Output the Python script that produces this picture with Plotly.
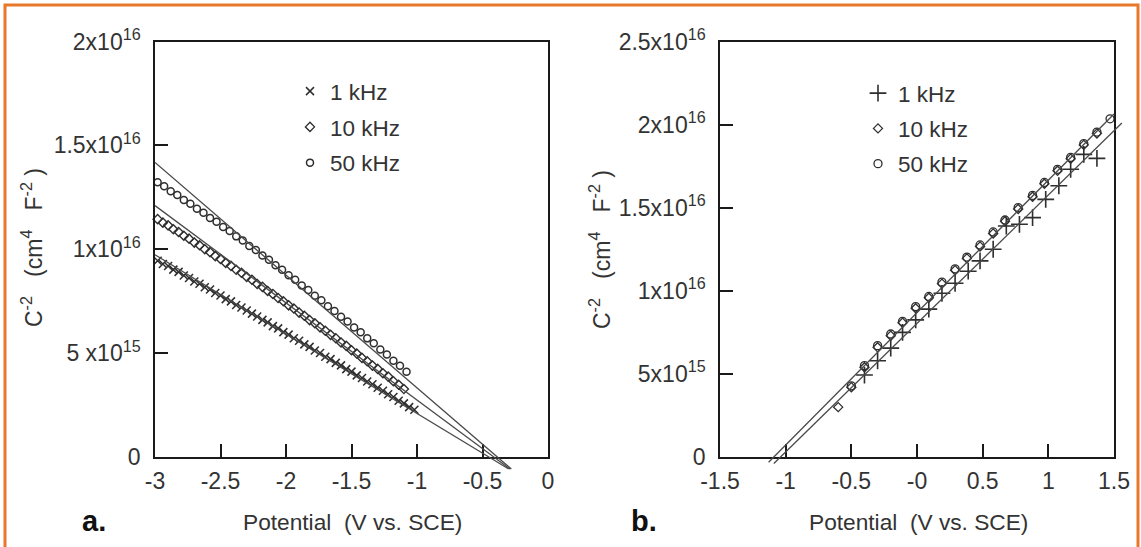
import plotly.graph_objects as go

# ---------------- data (C^-2 in units of 1e16 cm^4 F^-2, potential in V vs. SCE) -------------
# panel a
X_A_1K = [-2.98, -2.94, -2.90, -2.86, -2.82, -2.78, -2.74, -2.70, -2.66, -2.62,
          -2.58, -2.54, -2.50, -2.46, -2.42, -2.38, -2.34, -2.30, -2.26, -2.22,
          -2.18, -2.14, -2.10, -2.06, -2.02, -1.98, -1.94, -1.90, -1.86, -1.82,
          -1.78, -1.74, -1.70, -1.66, -1.62, -1.58, -1.54, -1.50, -1.46, -1.42,
          -1.38, -1.34, -1.30, -1.26, -1.22, -1.18, -1.14, -1.10, -1.06, -1.02]
Y_A_1K = [0.945, 0.929, 0.919, 0.902, 0.891, 0.874, 0.862, 0.845, 0.834, 0.817,
          0.806, 0.789, 0.777, 0.760, 0.749, 0.732, 0.720, 0.705, 0.690, 0.676,
          0.660, 0.648, 0.630, 0.619, 0.601, 0.589, 0.572, 0.560, 0.542, 0.530,
          0.513, 0.501, 0.483, 0.471, 0.453, 0.441, 0.423, 0.411, 0.393, 0.380,
          0.363, 0.350, 0.333, 0.319, 0.302, 0.289, 0.271, 0.258, 0.240, 0.227]

X_A_10K = [-2.98, -2.94, -2.90, -2.86, -2.82, -2.78, -2.74, -2.70, -2.66, -2.62,
           -2.58, -2.54, -2.50, -2.46, -2.42, -2.38, -2.34, -2.30, -2.26, -2.22,
           -2.18, -2.14, -2.10, -2.06, -2.02, -1.98, -1.94, -1.90, -1.86, -1.82,
           -1.78, -1.74, -1.70, -1.66, -1.62, -1.58, -1.54, -1.50, -1.46, -1.42,
           -1.38, -1.34, -1.30, -1.26, -1.22, -1.18, -1.14, -1.10]
Y_A_10K = [1.145, 1.128, 1.115, 1.096, 1.083, 1.065, 1.051, 1.032, 1.019, 1.000,
           0.986, 0.967, 0.953, 0.934, 0.920, 0.901, 0.887, 0.867, 0.853, 0.833,
           0.819, 0.799, 0.785, 0.765, 0.750, 0.730, 0.715, 0.695, 0.680, 0.659,
           0.644, 0.624, 0.608, 0.588, 0.572, 0.551, 0.535, 0.514, 0.498, 0.477,
           0.461, 0.440, 0.424, 0.403, 0.387, 0.365, 0.348, 0.327]

X_A_50K = [-2.98, -2.93, -2.88, -2.83, -2.78, -2.73, -2.68, -2.63, -2.58, -2.53,
           -2.48, -2.43, -2.38, -2.33, -2.28, -2.23, -2.18, -2.13, -2.08, -2.03,
           -1.98, -1.93, -1.88, -1.83, -1.78, -1.73, -1.68, -1.63, -1.58, -1.53,
           -1.48, -1.43, -1.38, -1.33, -1.28, -1.23, -1.18, -1.13, -1.08]
Y_A_50K = [1.322, 1.303, 1.279, 1.261, 1.237, 1.219, 1.195, 1.176, 1.151, 1.132,
           1.107, 1.088, 1.062, 1.042, 1.016, 0.996, 0.970, 0.949, 0.923, 0.901,
           0.875, 0.853, 0.826, 0.804, 0.776, 0.754, 0.726, 0.703, 0.675, 0.652,
           0.623, 0.600, 0.571, 0.547, 0.517, 0.493, 0.463, 0.439, 0.410]

# Mott-Schottky fits, panel a (end points of each straight line)
FIT_A_1K_X = [-3.0, -0.30]
FIT_A_1K_Y = [0.973, -0.058]
FIT_A_10K_X = [-3.0, -0.29]
FIT_A_10K_Y = [1.210, -0.058]
FIT_A_50K_X = [-3.0, -0.28]
FIT_A_50K_Y = [1.418, -0.058]

# panel b
X_B_1K = [-0.40, -0.30, -0.20, -0.11, -0.01, 0.09, 0.19, 0.29, 0.39, 0.48,
          0.58, 0.68, 0.78, 0.88, 0.98, 1.08, 1.17, 1.27, 1.37]
Y_B_1K = [0.493, 0.579, 0.655, 0.750, 0.825, 0.890, 0.985, 1.045, 1.118, 1.180,
          1.250, 1.390, 1.400, 1.440, 1.550, 1.632, 1.731, 1.821, 1.797]

X_B_10K = [-0.60, -0.50, -0.40, -0.30, -0.20, -0.11, -0.01, 0.09, 0.19, 0.29,
           0.38, 0.48, 0.58, 0.67, 0.77, 0.88, 0.97, 1.07, 1.17, 1.27, 1.37]
Y_B_10K = [0.300, 0.420, 0.540, 0.660, 0.730, 0.808, 0.895, 0.958, 1.043, 1.124,
           1.195, 1.267, 1.345, 1.418, 1.492, 1.566, 1.644, 1.722, 1.795, 1.878, 1.947]

X_B_50K = [-0.50, -0.40, -0.30, -0.20, -0.11, -0.01, 0.09, 0.19, 0.29, 0.38,
           0.48, 0.58, 0.67, 0.77, 0.88, 0.97, 1.07, 1.17, 1.27, 1.37, 1.47]
Y_B_50K = [0.428, 0.550, 0.670, 0.740, 0.816, 0.905, 0.966, 1.052, 1.132, 1.203,
           1.276, 1.354, 1.426, 1.501, 1.574, 1.652, 1.731, 1.803, 1.886, 1.955, 2.035]

FIT_B_HF_X = [-1.13, 1.50]
FIT_B_HF_Y = [-0.032, 2.064]
FIT_B_1K_X = [-1.09, 1.56]
FIT_B_1K_Y = [-0.039, 2.010]

# axis ticks
XT_A = [-3, -2.5, -2, -1.5, -1, -0.5, 0]
XL_A = ["-3", "-2.5", "-2", "-1.5", "-1", "-0.5", "0"]
YT_A = [0, 0.5, 1.0, 1.5, 2.0]
YL_A = ["0", "5 x10<sup>15</sup>", "1x10<sup>16</sup>", "1.5x10<sup>16</sup>", "2x10<sup>16</sup>"]
XT_B = [-1.5, -1, -0.5, 0, 0.5, 1, 1.5]
XL_B = ["-1.5", "-1", "-0.5", "-0", "0.5", "1", "1.5"]
YT_B = [0, 0.5, 1.0, 1.5, 2.0, 2.5]
YL_B = ["0", "5x10<sup>15</sup>", "1x10<sup>16</sup>", "1.5x10<sup>16</sup>",
        "2x10<sup>16</sup>", "2.5x10<sup>16</sup>"]

# ---------------- layout geometry (pixels) ----------------
W, H = 1141, 547
FONT = "Liberation Sans, Arial, sans-serif"
TXT = "#333333"
INK = "#2e2e2e"
LINE = "#4a4a4a"


def px(x):
    return x / W


def py(y):
    return 1 - y / H


A_X = [px(155), px(548)]
B_X = [px(720), px(1114)]
Y_DOM = [py(457), py(41.5)]
EXT_Y = 14 / H      # room for the fit lines below the zero line
EXT_X = 10 / W      # room for the fit lines right of panel b

fig = go.Figure()


def markers(x, y, sym, size, xa, ya, name, leg, lw=1.2):
    fig.add_trace(go.Scatter(
        x=x, y=y, mode="markers", name=name, xaxis=xa, yaxis=ya, legend=leg,
        legendgroup=leg + name, cliponaxis=False,
        marker=dict(symbol=sym, size=size, color=INK,
                    line=dict(color=INK, width=lw)),
    ))


def fitline(x, y, xa, ya):
    fig.add_trace(go.Scatter(
        x=x, y=y, mode="lines", xaxis=xa, yaxis=ya, showlegend=False,
        line=dict(color=LINE, width=1.3), hoverinfo="skip",
    ))


# panel a
fitline(FIT_A_1K_X, FIT_A_1K_Y, "x3", "y3")
fitline(FIT_A_10K_X, FIT_A_10K_Y, "x3", "y3")
fitline(FIT_A_50K_X, FIT_A_50K_Y, "x3", "y3")
markers(X_A_1K, Y_A_1K, "x-thin", 8, "x", "y", "1 kHz", "legend", 1.5)
markers(X_A_10K, Y_A_10K, "diamond-open", 7, "x", "y", "10 kHz", "legend", 1.4)
markers(X_A_50K, Y_A_50K, "circle-open", 7, "x", "y", "50 kHz", "legend", 1.5)

# panel b
fitline(FIT_B_HF_X, FIT_B_HF_Y, "x4", "y4")
fitline(FIT_B_1K_X, FIT_B_1K_Y, "x4", "y4")
markers(X_B_1K, Y_B_1K, "cross-thin", 12, "x2", "y2", "1 kHz", "legend2", 1.6)
markers(X_B_10K, Y_B_10K, "diamond-open", 7, "x2", "y2", "10 kHz", "legend2", 1.3)
markers(X_B_50K, Y_B_50K, "circle-open", 8, "x2", "y2", "50 kHz", "legend2", 1.3)

axis_common = dict(
    showline=True, linecolor="#1a1a1a", linewidth=1.6, mirror=True,
    ticks="inside", ticklen=13, tickwidth=1.5, tickcolor="#1a1a1a",
    showgrid=False, zeroline=False, tickmode="array", automargin=False,
    tickfont=dict(family=FONT, size=23, color=TXT),
)

fig.update_layout(
    width=W, height=H,
    margin=dict(l=0, r=0, t=0, b=0, autoexpand=False),
    paper_bgcolor="white", plot_bgcolor="rgba(0,0,0,0)",
    font=dict(family=FONT, color=TXT),
    xaxis=dict(domain=A_X, range=[-3, 0], anchor="y", tickvals=XT_A, ticktext=XL_A,
               ticklabelstandoff=3, **axis_common),
    yaxis=dict(domain=Y_DOM, range=[0, 2], anchor="x", tickvals=YT_A, ticktext=YL_A,
               ticklabelstandoff=8, **axis_common),
    xaxis2=dict(domain=B_X, range=[-1.5, 1.5], anchor="y2", tickvals=XT_B, ticktext=XL_B,
                ticklabelstandoff=3, **axis_common),
    yaxis2=dict(domain=Y_DOM, range=[0, 2.5], anchor="x2", tickvals=YT_B, ticktext=YL_B,
                ticklabelstandoff=8, **axis_common),
    # hidden axes carrying the fit lines, extended so the lines run past the frame
    xaxis3=dict(domain=A_X, range=[-3, 0], anchor="y3", visible=False),
    yaxis3=dict(domain=[Y_DOM[0] - EXT_Y, Y_DOM[1]],
                range=[-2 * EXT_Y / (Y_DOM[1] - Y_DOM[0]), 2], anchor="x3", visible=False),
    xaxis4=dict(domain=[B_X[0], B_X[1] + EXT_X],
                range=[-1.5, 1.5 + 3 * EXT_X / (B_X[1] - B_X[0])], anchor="y4", visible=False),
    yaxis4=dict(domain=[Y_DOM[0] - EXT_Y, Y_DOM[1]],
                range=[-2.5 * EXT_Y / (Y_DOM[1] - Y_DOM[0]), 2.5], anchor="x4", visible=False),
    legend=dict(x=px(290), y=py(70), xanchor="left", yanchor="top",
                bgcolor="rgba(0,0,0,0)", font=dict(family=FONT, size=22.5, color=TXT),
                itemwidth=30, tracegroupgap=3.5, traceorder="grouped"),
    legend2=dict(x=px(858), y=py(72), xanchor="left", yanchor="top",
                 bgcolor="rgba(0,0,0,0)", font=dict(family=FONT, size=22.5, color=TXT),
                 itemwidth=30, tracegroupgap=3, traceorder="grouped"),
    showlegend=True,
)

SP = "\u00a0"
ytitle = f"C<sup>-2</sup>{SP*3}(cm<sup>4</sup>{SP*3}F<sup>-2</sup>{SP})"
xtitle = f"Potential{SP*2}(V vs. SCE)"
for xc, yc, txt, ang in [(32, 248, ytitle, -90), (600, 250, ytitle, -90),
                         (352, 522, xtitle, 0), (918, 522, xtitle, 0)]:
    fig.add_annotation(x=px(xc), y=py(yc), xref="paper", yref="paper", text=txt,
                       textangle=ang, showarrow=False, xanchor="center", yanchor="middle",
                       font=dict(family=FONT, size=23 if ang else 22.7, color=TXT))
for xc, txt in [(94, "a."), (644, "b.")]:
    fig.add_annotation(x=px(xc), y=py(521), xref="paper", yref="paper",
                       text="<b>" + txt + "</b>", showarrow=False,
                       xanchor="center", yanchor="middle",
                       font=dict(family=FONT, size=29, color="#111111"))

# orange frame around the figure
fig.add_shape(type="path", xref="paper", yref="paper",
              path=f"M {px(5)},0 L {px(5)},{py(5)} L {px(1138)},{py(5)} L {px(1138)},0",
              line=dict(color="#E8782A", width=3))

fig.write_html("out.html")
